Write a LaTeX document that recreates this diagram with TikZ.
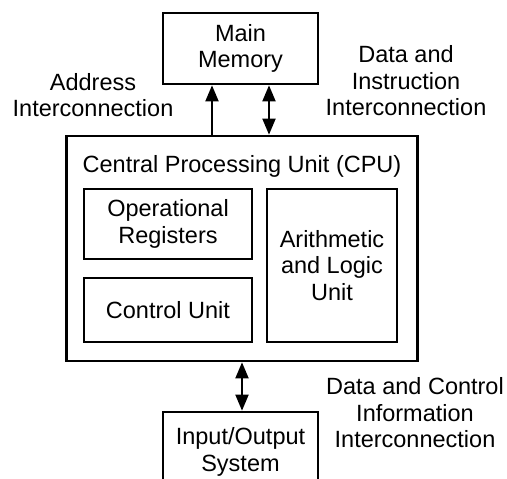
\documentclass[tikz,border=0pt]{standalone}
\usepackage{fontspec}
\setmainfont{Liberation Sans}
\usetikzlibrary{arrows.meta}
\begin{document}
\begin{tikzpicture}[x=1pt,y=-1pt,
  every node/.style={font=\fontsize{23.5}{26.5}\selectfont, align=center, inner sep=0pt},
  box/.style={draw, line width=2.7pt},
  onearrow/.style={line width=2pt, -{Triangle[length=16pt,width=13pt]}},
  twoarrow/.style={line width=2pt, {Triangle[length=16pt,width=13pt]}-{Triangle[length=16pt,width=13pt]}}]
  % page area
  \clip (0,0) rectangle (507,479);
  \fill[white] (0,0) rectangle (507,479);

  % boxes
  \node[box, minimum width=155pt, minimum height=71pt] (mem) at (240.5,48.5) {Main\\Memory};
  \node[box, minimum width=351pt, minimum height=225pt] (cpu) at (241.75,248.5) {};
  \node[anchor=base] (cputitle) at (242,172) {Central Processing Unit (CPU)};
  \node[box, minimum width=168pt, minimum height=70pt] (reg) at (168,224) {Operational\\Registers};
  \node[box, minimum width=168pt, minimum height=64pt] (cu) at (168,310) {Control Unit};
  \node[box, minimum width=130pt, minimum height=153pt] (alu) at (332,265.5) {Arithmetic\\and Logic\\Unit};
  \node[box, minimum width=155pt, minimum height=80pt] (io) at (240.5,452) {Input/Output\\System};

  % connector columns
  \coordinate (ca) at (212,0);
  \coordinate (cd) at (269,0);
  \coordinate (cb) at (242,0);

  % connectors
  \draw[onearrow] (ca |- cpu.north) -- (ca |- mem.south);
  \draw[twoarrow] (cd |- cpu.north) -- (cd |- mem.south);
  \draw[twoarrow] (cb |- cpu.south) -- (cb |- io.north);

  % connector labels
  \node (laddr) at (93,95) {Address\\Interconnection};
  \node (ldata) at (406,81) {Data and\\Instruction\\Interconnection};
  \node (lctrl) at (415,413) {Data and Control\\Information\\Interconnection};
\end{tikzpicture}
\end{document}
